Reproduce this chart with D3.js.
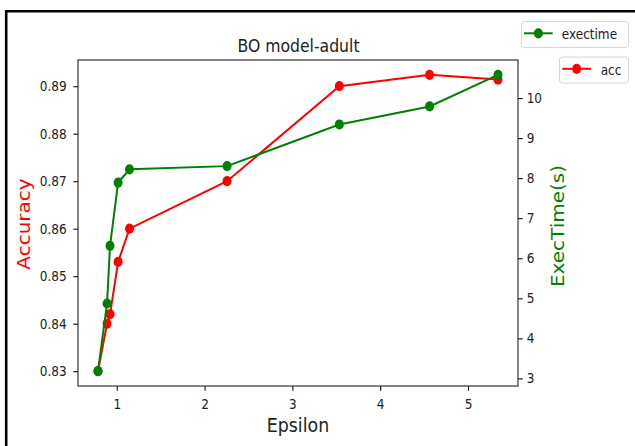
<!DOCTYPE html>
<html>
<head>
<meta charset="utf-8">
<script src="https://cdn.jsdelivr.net/npm/d3@7"></script>
<style>
  html, body { margin: 0; padding: 0; background: #fff; }
  svg { display: block; font-family: "DejaVu Sans", sans-serif; }
</style>
</head>
<body>
<svg id="chart" width="635" height="446"></svg>
<script>
// Epsilon values on the x axis
const epsilon = [0.786, 0.889, 0.923, 1.015, 1.145, 2.256, 3.535, 4.563, 5.342];
// Model accuracy for each epsilon (left axis)
const accuracy = [0.830, 0.840, 0.842, 0.853, 0.860, 0.870, 0.890, 0.8924, 0.8914];
// Execution time in seconds for each epsilon (right axis)
const execTime = [3.18, 4.87, 6.31, 7.89, 8.22, 8.30, 9.34, 9.79, 10.58];

const xTicks = [1, 2, 3, 4, 5];
const accTicks = [0.83, 0.84, 0.85, 0.86, 0.87, 0.88, 0.89];
const timeTicks = [3, 4, 5, 6, 7, 8, 9, 10];

const titleText = "BO model-adult";
const xLabel = "Epsilon";
const accLabel = "Accuracy";
const timeLabel = "ExecTime(s)";
const accName = "acc";
const timeName = "exectime";

const RED = "#ff0000";
const GREEN = "#008000";
const SX = 0.87;           // horizontal squeeze applied to all text
const TICK_FONT = 13.9;

const plot = { left: 78, right: 518, top: 60, bottom: 386 };

// extent padded by 5% on each side
function padded(values) {
  const [lo, hi] = d3.extent(values);
  const m = (hi - lo) * 0.05;
  return [lo - m, hi + m];
}

const x = d3.scaleLinear().domain(padded(epsilon)).range([plot.left, plot.right]);
const yAcc = d3.scaleLinear().domain(padded(accuracy)).range([plot.bottom, plot.top]);
const yTime = d3.scaleLinear().domain(padded(execTime)).range([plot.bottom, plot.top]);

const svg = d3.select("#chart");

// outer frame (left and top edges)
svg.append("path")
  .attr("d", "M6.2,446 V11.3 H640")
  .attr("fill", "none")
  .attr("stroke", "#000")
  .attr("stroke-width", 2.6);

// axes
function styleAxis(g) {
  g.select(".domain").remove();
  g.selectAll(".tick line").attr("stroke", "#111").attr("stroke-width", 1.1);
  g.selectAll(".tick text")
    .attr("fill", "#222")
    .attr("font-size", TICK_FONT)
    .attr("font-family", "DejaVu Sans, sans-serif");
}

const gx = svg.append("g")
  .attr("transform", `translate(0,${plot.bottom})`)
  .call(d3.axisBottom(x).tickValues(xTicks).tickFormat(d3.format("d")).tickSize(4.7).tickPadding(8.3))
  .call(styleAxis);
gx.selectAll(".tick text").attr("transform", `scale(${SX},1)`);

const gl = svg.append("g")
  .attr("transform", `translate(${plot.left},0)`)
  .call(d3.axisLeft(yAcc).tickValues(accTicks).tickFormat(d3.format(".2f")).tickSize(4.7))
  .call(styleAxis);
gl.selectAll(".tick text").attr("x", -11.3 / SX).attr("transform", `scale(${SX},1)`);

const gr = svg.append("g")
  .attr("transform", `translate(${plot.right},0)`)
  .call(d3.axisRight(yTime).tickValues(timeTicks).tickFormat(d3.format("d")).tickSize(4.7))
  .call(styleAxis);
gr.selectAll(".tick text").attr("x", 8.7 / SX).attr("transform", `scale(${SX},1)`);

// plot frame
svg.append("rect")
  .attr("x", plot.left).attr("y", plot.top)
  .attr("width", plot.right - plot.left).attr("height", plot.bottom - plot.top)
  .attr("fill", "none").attr("stroke", "#222").attr("stroke-width", 1.1);

// series
function drawSeries(values, yScale, color) {
  const pts = epsilon.map((e, i) => [e, values[i]]);
  const line = d3.line().x(d => x(d[0])).y(d => yScale(d[1]));
  svg.append("path")
    .datum(pts)
    .attr("d", line)
    .attr("fill", "none")
    .attr("stroke", color)
    .attr("stroke-width", 2);
  svg.append("g").selectAll("ellipse")
    .data(pts)
    .join("ellipse")
    .attr("cx", d => x(d[0]))
    .attr("cy", d => yScale(d[1]))
    .attr("rx", 4.5)
    .attr("ry", 5.1)
    .attr("fill", color);
}
drawSeries(accuracy, yAcc, RED);
drawSeries(execTime, yTime, GREEN);

// horizontal text, squeezed in x
function hText(str, tx, ty, size, anchor, color) {
  return svg.append("text")
    .attr("transform", `translate(${tx},${ty}) scale(${SX},1)`)
    .attr("text-anchor", anchor)
    .attr("font-size", size)
    .attr("fill", color)
    .text(str);
}
// vertical text reading bottom to top
function vText(str, tx, ty, size, color) {
  return svg.append("text")
    .attr("transform", `translate(${tx},${ty}) scale(${SX},1) rotate(-90)`)
    .attr("text-anchor", "middle")
    .attr("font-size", size)
    .attr("fill", color)
    .text(str);
}

hText(titleText, (plot.left + plot.right) / 2 + 0.5, 51.5, 18, "middle", "#222");
hText(xLabel, (plot.left + plot.right) / 2, 432, 20, "middle", "#222");
vText(accLabel, 29.5, 224, 20, RED);
vText(timeLabel, 564, 226, 20, GREEN);

// legends: one box per series
function legendBox(name, color, bx, by, bw, bh, lineX0, lineX1, textX) {
  const g = svg.append("g").attr("transform", `translate(${bx},${by})`);
  g.append("rect")
    .attr("x", 0.5).attr("y", 0.5)
    .attr("width", bw).attr("height", bh)
    .attr("rx", 3)
    .attr("fill", "#fff")
    .attr("fill-opacity", 0.8)
    .attr("stroke", "#d6d6d6")
    .attr("stroke-width", 1);
  const ly = 12.3;
  g.append("line")
    .attr("x1", lineX0).attr("x2", lineX1)
    .attr("y1", ly).attr("y2", ly)
    .attr("stroke", color).attr("stroke-width", 2);
  g.append("ellipse")
    .attr("cx", (lineX0 + lineX1) / 2).attr("cy", ly)
    .attr("rx", 4.5).attr("ry", 5.1)
    .attr("fill", color);
  g.append("text")
    .attr("transform", `translate(${textX},18) scale(${SX},1)`)
    .attr("font-size", TICK_FONT)
    .attr("fill", "#222")
    .text(name);
}
legendBox(timeName, GREEN, 521, 21, 107, 26, 3, 31.7, 40.7);
legendBox(accName, RED, 559, 56.5, 69, 26, 3.3, 32, 41.7);
</script>
</body>
</html>
